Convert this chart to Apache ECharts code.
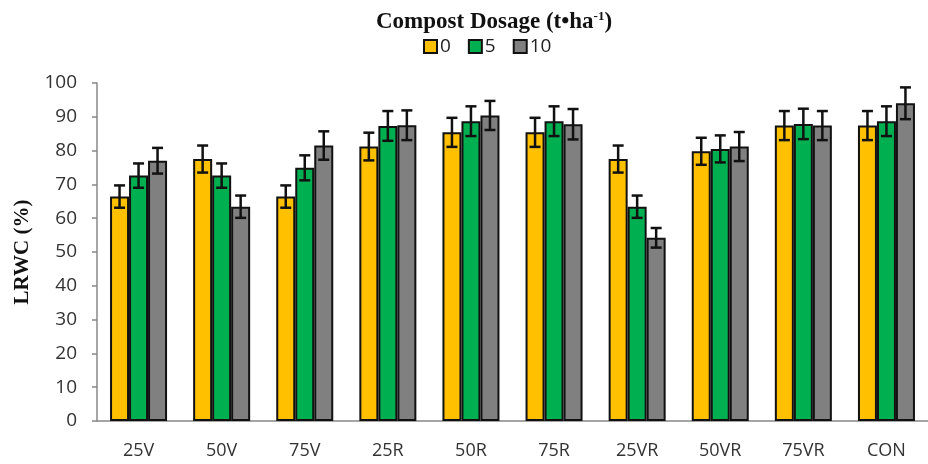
<!DOCTYPE html>
<html>
<head>
<meta charset="utf-8">
<script src="https://cdn.jsdelivr.net/npm/echarts@6/dist/echarts.min.js"></script>
<style>
  html, body { margin: 0; padding: 0; background: #fff; }
  #chart { width: 928px; height: 464px; }
</style>
</head>
<body>
<div id="chart"></div>
<script>
var categories = ["25V", "50V", "75V", "25R", "50R", "75R", "25VR", "50VR", "75VR", "CON"];
var dose0 = [66.4, 77.5, 66.4, 81.2, 85.4, 85.4, 77.5, 79.8, 87.4, 87.4];
var dose5 = [72.6, 72.6, 74.9, 87.3, 88.7, 88.7, 63.4, 80.5, 87.9, 88.7];
var dose10 = [77.0, 63.4, 81.5, 87.5, 90.4, 87.8, 54.2, 81.2, 87.4, 94.0];
var err0 = [3.3, 4.0, 3.3, 4.1, 4.3, 4.3, 4.0, 4.0, 4.3, 4.3];
var err5 = [3.6, 3.6, 3.7, 4.4, 4.4, 4.4, 3.3, 4.0, 4.5, 4.4];
var err10 = [3.8, 3.3, 4.2, 4.4, 4.3, 4.5, 2.9, 4.3, 4.3, 4.7];
var yTicks = [0, 10, 20, 30, 40, 50, 60, 70, 80, 90, 100];

var barW = 19;

function barSeries(name, vals, color) {
  return {
    name: name,
    type: "bar",
    data: vals,
    barWidth: barW,
    barGap: "0%",
    itemStyle: { color: color, borderColor: "#111", borderWidth: 2 }
  };
}

// error bars drawn on top of each bar through the axis coords
function errSeries(vals, errs, offset) {
  return {
    type: "custom",
    silent: true,
    z: 10,
    data: vals.map(function (v, i) { return [i, v, errs[i]]; }),
    renderItem: function (params, api) {
      var i = api.value(0), v = api.value(1), e = api.value(2);
      var top = api.coord([i, v + e]);
      var bot = api.coord([i, v - e]);
      var x = top[0] + offset;
      var style = { stroke: "#111", lineWidth: 2.5 };
      return {
        type: "group",
        children: [
          { type: "line", shape: { x1: x, y1: top[1], x2: x, y2: bot[1] }, style: style },
          { type: "line", shape: { x1: x - 5.5, y1: top[1], x2: x + 5.5, y2: top[1] }, style: style },
          { type: "line", shape: { x1: x - 5.5, y1: bot[1], x2: x + 5.5, y2: bot[1] }, style: style }
        ]
      };
    }
  };
}

var chart = echarts.init(document.getElementById("chart"));
chart.setOption({
  animation: false,
  title: {
    text: "Compost Dosage (t•ha{sup|-1})",
    left: 489,
    textAlign: "center",
    top: 5,
    textStyle: {
      fontFamily: "Liberation Serif",
      fontWeight: "bold",
      fontSize: 23,
      color: "#111",
      rich: {
        sup: { fontFamily: "Liberation Serif", fontWeight: "bold", fontSize: 13, color: "#111", padding: [0, 0, 11, 0] }
      }
    }
  },
  legend: {
    data: ["0", "5", "10"],
    left: 418,
    top: 32,
    icon: "rect",
    itemWidth: 13,
    itemHeight: 13,
    itemGap: 17,
    itemStyle: { borderWidth: 2, borderColor: "#111" },
    textStyle: { fontFamily: "Open Sans", fontSize: 19, color: "#222", padding: [0, 0, 0, -2] }
  },
  grid: { left: 97, right: -4, top: 83, bottom: 43 },
  xAxis: {
    type: "category",
    data: categories,
    axisLine: { lineStyle: { color: "#888", width: 1.5 } },
    axisTick: { length: 6, lineStyle: { color: "#888", width: 1.5 } },
    axisLabel: { fontFamily: "Open Sans", fontSize: 18, color: "#333", margin: 21 }
  },
  yAxis: {
    type: "value",
    min: 0,
    max: 100,
    interval: 10,
    name: "LRWC (%)",
    nameLocation: "middle",
    nameGap: 60,
    nameTextStyle: { fontFamily: "Liberation Serif", fontWeight: "bold", fontSize: 21, color: "#111" },
    axisLine: { show: true, lineStyle: { color: "#888", width: 1.5 } },
    axisTick: { show: true, length: 5, lineStyle: { color: "#888", width: 1.5 } },
    splitLine: { show: false },
    axisLabel: {
      fontFamily: "Open Sans", fontSize: 19, color: "#333", margin: 20,
      formatter: function (v) { return yTicks.indexOf(v) >= 0 ? String(v) : ""; }
    }
  },
  series: [
    barSeries("0", dose0, "#FFC000"),
    barSeries("5", dose5, "#00B050"),
    barSeries("10", dose10, "#808080"),
    errSeries(dose0, err0, -barW),
    errSeries(dose5, err5, 0),
    errSeries(dose10, err10, barW)
  ]
});
</script>
</body>
</html>
